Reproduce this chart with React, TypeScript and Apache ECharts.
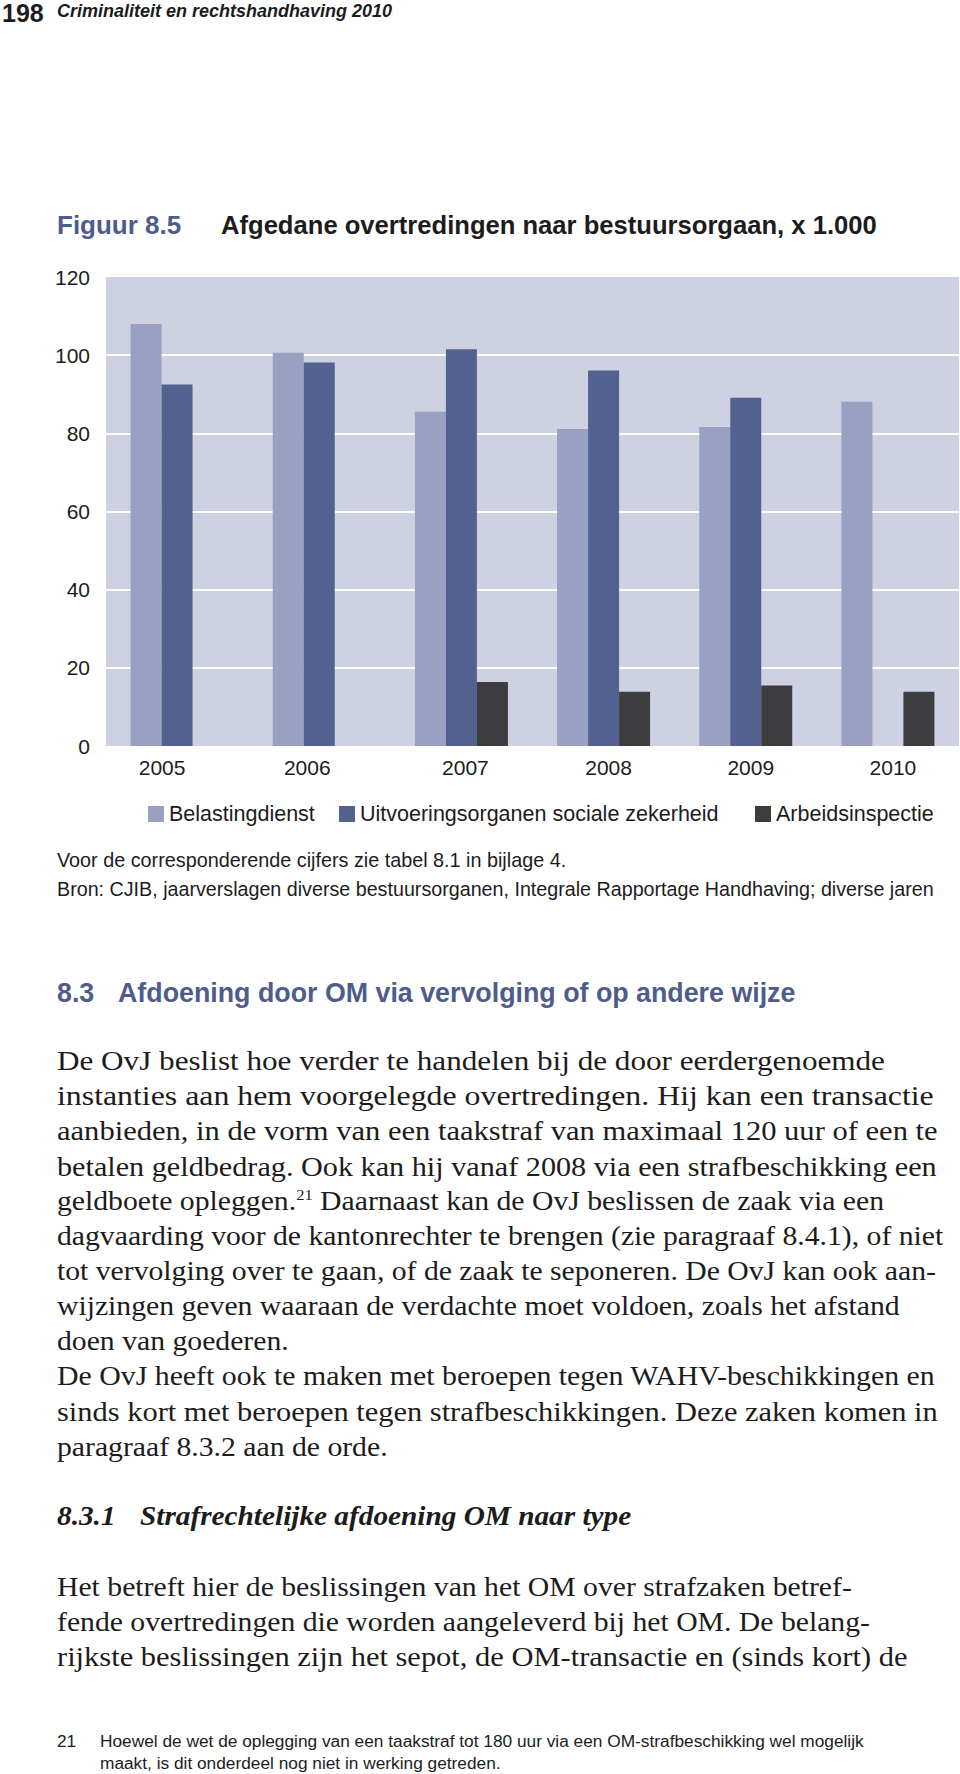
import React, { useEffect, useRef } from "react";
import * as echarts from "echarts";

// ---- chart data ----
const years = ["2005", "2006", "2007", "2008", "2009", "2010"];
const belastingdienst = [108.0, 100.6, 85.5, 81.1, 81.6, 88.1];
const uitvoeringsorganen = [92.5, 98.1, 101.5, 96.1, 89.1, null];
const arbeidsinspectie = [null, null, 16.4, 13.9, 15.5, 13.9];
const seriesNames = [
  "Belastingdienst",
  "Uitvoeringsorganen sociale zekerheid",
  "Arbeidsinspectie",
];
const yMin = 0;
const yMax = 120;
const yStep = 20;

// ---- page texts ----
const pageNumber = "198";
const runningHead = "Criminaliteit en rechtshandhaving 2010";
const figureLabel = "Figuur 8.5";
const figureTitle = "Afgedane overtredingen naar bestuursorgaan, x 1.000";
const noteLine = "Voor de corresponderende cijfers zie tabel 8.1 in bijlage 4.";
const sourceLine =
  "Bron: CJIB, jaarverslagen diverse bestuursorganen, Integrale Rapportage Handhaving; diverse jaren";
const sectionNumber = "8.3";
const sectionTitle = "Afdoening door OM via vervolging of op andere wijze";
const paragraph1 = [
  "De OvJ beslist hoe verder te handelen bij de door eerdergenoemde",
  "instanties aan hem voorgelegde overtredingen. Hij kan een transactie",
  "aanbieden, in de vorm van een taakstraf van maximaal 120 uur of een te",
  "betalen geldbedrag. Ook kan hij vanaf 2008 via een strafbeschikking een",
  "{n|geldboete opleggen.}{s|21}{n| Daarnaast kan de OvJ beslissen de zaak via een}",
  "dagvaarding voor de kantonrechter te brengen (zie paragraaf 8.4.1), of niet",
  "tot vervolging over te gaan, of de zaak te seponeren. De OvJ kan ook aan-",
  "wijzingen geven waaraan de verdachte moet voldoen, zoals het afstand",
  "doen van goederen.",
  "De OvJ heeft ook te maken met beroepen tegen WAHV-beschikkingen en",
  "sinds kort met beroepen tegen strafbeschikkingen. Deze zaken komen in",
  "paragraaf 8.3.2 aan de orde.",
];
const subNumber = "8.3.1";
const subTitle = "Strafrechtelijke afdoening OM naar type";
const paragraph2 = [
  "Het betreft hier de beslissingen van het OM over strafzaken betref-",
  "fende overtredingen die worden aangeleverd bij het OM. De belang-",
  "rijkste beslissingen zijn het sepot, de OM-transactie en (sinds kort) de",
];
const footnoteNumber = "21";
const footnoteLines = [
  "Hoewel de wet de oplegging van een taakstraf tot 180 uur via een OM-strafbeschikking wel mogelijk",
  "maakt, is dit onderdeel nog niet in werking getreden.",
];

// ---- layout (positions / styles only) ----
const xLabelShift = [-15, -12, 4, 5, 5, 5];
const paragraph1Right = [885, 934, 938, 937, 0, 0, 0, 0, 0, 936, 938, 0];
const paragraph2Right = [0, 0, 908];

const SANS = "'Liberation Sans', Arial, sans-serif";
const SERIF = "'Liberation Serif', 'Times New Roman', serif";
const BLUE = "#4e5b8d";
const INK = "#1c1c1c";
const COLORS = ["#99a0c2", "#536190", "#3d3d3f"];

function txt(
  text: string,
  x: number,
  y: number,
  o: { size: number; family?: string; weight?: string; style?: string; fill?: string; scaleX?: number; rich?: any }
) {
  return {
    type: "text",
    x,
    y,
    scaleX: o.scaleX ?? 1,
    silent: true,
    style: {
      text,
      fontSize: o.size,
      fontFamily: o.family ?? SANS,
      fontWeight: o.weight ?? "normal",
      fontStyle: o.style ?? "normal",
      fill: o.fill ?? INK,
      align: "left",
      verticalAlign: "middle",
      textAlign: "left",
      textVerticalAlign: "middle",
      rich: o.rich,
    },
  };
}

export default function App() {
  const ref = useRef<HTMLDivElement>(null);

  useEffect(() => {
    if (!ref.current) return;
    const chart = echarts.init(ref.current, undefined, { renderer: "svg" });

    const bodySize = 27;
    const bodyScale = 1.1;
    const lineH = 35.05;
    const bodyX = 57;
    const canvas = document.createElement("canvas");
    const ctx = canvas.getContext("2d")!;
    ctx.font = `${bodySize}px 'Liberation Serif'`;

    const bodyLine = (line: string, right: number, y: number) => {
      if (!right) {
        return txt(line, bodyX, y, { size: bodySize, family: SERIF, scaleX: bodyScale });
      }
      const natural = ctx.measureText(line).width;
      const lineScale = Math.min(1.2, Math.max(1.0, (right - bodyX) / natural));
      return txt(line, bodyX, y, { size: bodySize, family: SERIF, scaleX: lineScale });
    };

    const richBody = {
      n: { fontSize: bodySize, fontFamily: SERIF, fill: INK, lineHeight: bodySize },
      s: { fontSize: 15, fontFamily: SERIF, fill: INK, verticalAlign: "top", lineHeight: 15 },
    };

    const graphics: any[] = [];
    graphics.push(txt(pageNumber, 2, 12.5, { size: 25, weight: "bold" }));
    graphics.push(txt(runningHead, 57, 10.5, { size: 18, weight: "bold", style: "italic" }));
    graphics.push(txt(figureLabel, 57, 225, { size: 26, weight: "bold", fill: BLUE }));
    graphics.push(txt(figureTitle, 221, 225, { size: 25.6, weight: "bold" }));
    graphics.push(txt(noteLine, 57, 860, { size: 19.8 }));
    graphics.push(txt(sourceLine, 57, 889, { size: 19.7 }));
    graphics.push(txt(sectionNumber, 57, 993, { size: 26.8, weight: "bold", fill: BLUE }));
    graphics.push(txt(sectionTitle, 118, 993, { size: 26.8, weight: "bold", fill: BLUE }));
    paragraph1.forEach((line, i) => {
      const y = 1061 + i * lineH;
      if (line.startsWith("{")) {
        graphics.push(txt(line, bodyX, y, { size: bodySize, family: SERIF, scaleX: bodyScale, rich: richBody }));
      } else {
        graphics.push(bodyLine(line, paragraph1Right[i], y));
      }
    });
    graphics.push(txt(subNumber, 57, 1516, { size: bodySize, family: SERIF, weight: "bold", style: "italic", scaleX: 1.085 }));
    graphics.push(txt(subTitle, 140, 1516, { size: bodySize, family: SERIF, weight: "bold", style: "italic", scaleX: 1.085 }));
    paragraph2.forEach((line, i) => {
      graphics.push(bodyLine(line, paragraph2Right[i], 1587 + i * lineH));
    });
    graphics.push(txt(footnoteNumber, 57, 1741, { size: 17.3 }));
    footnoteLines.forEach((line, i) => {
      graphics.push(txt(line, 100, 1741 + i * 21.5, { size: 17.3 }));
    });

    const legendBase = {
      orient: "horizontal",
      top: 798,
      itemWidth: 16,
      itemHeight: 16,
      icon: "rect",
      selectedMode: false,
      textStyle: { fontSize: 21.5, fontFamily: SANS, color: INK },
    };

    const labelRich: Record<string, any> = {};
    xLabelShift.forEach((s, i) => {
      labelRich["l" + i] = {
        fontSize: 21,
        fontFamily: SANS,
        color: INK,
        padding: s < 0 ? [0, -2 * s, 0, 0] : [0, 0, 0, 2 * s],
      };
    });

    chart.setOption({
      animation: false,
      backgroundColor: "#ffffff",
      textStyle: { fontFamily: SANS },
      grid: {
        left: 106,
        top: 277,
        width: 853,
        height: 469,
        show: true,
        backgroundColor: "#cdd1e2",
        borderWidth: 0,
        containLabel: false,
      },
      legend: [
        { ...legendBase, left: 143, data: [seriesNames[0]] },
        { ...legendBase, left: 334, data: [seriesNames[1]] },
        { ...legendBase, left: 750, data: [seriesNames[2]] },
      ],
      xAxis: {
        type: "category",
        data: years,
        axisLine: { show: false },
        axisTick: { show: false },
        axisLabel: {
          fontSize: 21,
          color: INK,
          margin: 11,
          fontFamily: SANS,
          formatter: (v: string, i: number) => `{l${i}|${v}}`,
          rich: labelRich,
        },
        splitLine: { show: false },
      },
      yAxis: {
        type: "value",
        min: yMin,
        max: yMax,
        interval: yStep,
        axisLine: { show: false },
        axisTick: { show: false },
        axisLabel: { fontSize: 21, color: INK, margin: 16, fontFamily: SANS },
        splitLine: {
          show: true,
          showMinLine: false,
          showMaxLine: false,
          lineStyle: { color: "#ffffff", width: 2 },
        },
      },
      series: [
        { name: seriesNames[0], type: "bar", data: belastingdienst, barWidth: 31, barGap: "0%", itemStyle: { color: COLORS[0] } },
        { name: seriesNames[1], type: "bar", data: uitvoeringsorganen, barWidth: 31, barGap: "0%", itemStyle: { color: COLORS[1] } },
        { name: seriesNames[2], type: "bar", data: arbeidsinspectie, barWidth: 31, barGap: "0%", itemStyle: { color: COLORS[2] } },
      ],
      graphic: { elements: graphics },
    });

    return () => chart.dispose();
  }, []);

  return (
    <div
      ref={ref}
      style={{ position: "absolute", left: 0, top: 0, width: 960, height: 1774, background: "#fff" }}
    />
  );
}
